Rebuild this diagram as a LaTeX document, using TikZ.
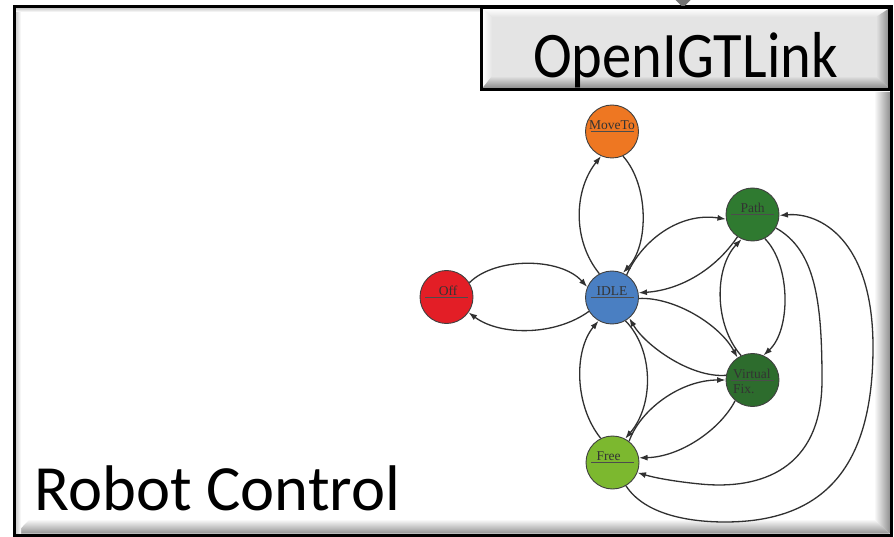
\documentclass[tikz,border=0pt]{standalone}
\usepackage{fontspec}
\newfontfamily\calfont{Carlito}
\newfontfamily\calnarrow[FakeStretch=0.9]{Carlito}
\newfontfamily\statefont{Liberation Serif}
\usetikzlibrary{arrows.meta}

\definecolor{offred}{HTML}{E31E26}
\definecolor{idleblue}{HTML}{4A7FC2}
\definecolor{moveorange}{HTML}{EE7722}
\definecolor{pathgreen}{HTML}{2F7A30}
\definecolor{vfgreen}{HTML}{2D6C2D}
\definecolor{freegreen}{HTML}{7CB82F}
\definecolor{boxgray}{HTML}{E4E4E4}
\definecolor{edgegray}{HTML}{303030}

\tikzset{
  stnode/.style={circle, draw=black!75, line width=0.9pt, minimum size=53pt,
    inner sep=0pt, fill=#1,
    path picture={\draw[line width=0.7pt, black!70]
      ([xshift=-21.5pt]path picture bounding box.center) --
      ([xshift=21.5pt]path picture bounding box.center);}},
  stlabel/.style={inner sep=0pt, text=black!80,
    font=\fontsize{13.5}{15}\selectfont\statefont},
  edge/.style={draw=edgegray, line width=1.3pt,
    -{Latex[length=8.5pt,width=6pt]}},
  bigtext/.style={inner sep=0pt, text=black}
}

\begin{document}
\begin{tikzpicture}[x=1pt, y=-1pt]
\useasboundingbox (0,0) rectangle (894,537);
\fill[white] (0,0) rectangle (894,537);

% bevel of the outer panel
\begin{scope}
  \clip (874,92) -- (889.5,92) -- (889.5,533.5) -- (874,519) -- cycle;
  \shade[left color=white, right color=black!42] (874,92) rectangle (889.5,533.5);
\end{scope}
\begin{scope}
  \clip (16,533.5) -- (889.5,533.5) -- (874,519) -- (30,519) -- cycle;
  \shade[top color=white, bottom color=black!42] (16,519) rectangle (889.5,533.5);
\end{scope}
\shade[left color=black!18, right color=white] (16,8.5) rectangle (21,533);
\shade[top color=black!18, bottom color=white] (16,8.5) rectangle (481,12);

% outer panel border
\draw[line width=3pt] (14.5,7) rectangle (891,535);

% incoming arrow tip above the OpenIGTLink box
\fill[black!55] (674.5,-1) -- (691.5,-1) -- (683,7.5) -- cycle;

% OpenIGTLink box
\node[rectangle, fill=boxgray, minimum width=408pt, minimum height=82pt,
  inner sep=0pt] (igt) at (685.5,48.25) {};
\begin{scope}
  \clip (482.5,8.5) -- (889,8.5) -- (878,17) -- (492,17) -- cycle;
  \shade[top color=white, bottom color=boxgray] (482.5,8.5) rectangle (889,17);
\end{scope}
\begin{scope}
  \clip (482.5,8.5) -- (492,17) -- (492,77) -- (482.5,88) -- cycle;
  \shade[left color=white, right color=boxgray] (482.5,8.5) rectangle (492,88);
\end{scope}
\begin{scope}
  \clip (889,8.5) -- (889,88) -- (876,76) -- (876,17) -- cycle;
  \shade[left color=boxgray, right color=black!45] (876,8.5) rectangle (889,88);
\end{scope}
\begin{scope}
  \clip (482.5,88) -- (889,88) -- (876,76) -- (492,76) -- cycle;
  \shade[top color=boxgray, bottom color=black!45] (482.5,76) rectangle (889,88);
\end{scope}
\draw[line width=3pt] (igt.north west) rectangle (igt.south east);
\node[bigtext, anchor=base, font=\fontsize{65}{70}\selectfont\calnarrow]
  (igt-text) at (685.5,78) {OpenIGTLink};

% panel title
\node[bigtext, anchor=base west, font=\fontsize{64.5}{70}\selectfont\calfont]
  (panel-title) at (34.5,510.5) {Robot Control};

% states
\node[stnode=moveorange] (moveto) at (612,131.5) {};
\node[stnode=idleblue]   (idle)   at (612,297.5) {};
\node[stnode=offred]     (off)    at (446.5,297) {};
\node[stnode=pathgreen]  (path)   at (752.5,214.5) {};
\node[stnode=vfgreen]    (vf)     at (752.5,380) {};
\node[stnode=freegreen]  (free)   at (612.5,462.5) {};

\node[stlabel, anchor=base] (moveto-l) at ([yshift=2pt]moveto.center) {MoveTo};
\node[stlabel, anchor=base] (idle-l)   at ([yshift=2pt]idle.center) {IDLE};
\node[stlabel, anchor=base] (off-l)    at ([xshift=1.5pt,yshift=2pt]off.center) {Off};
\node[stlabel, anchor=base] (path-l)   at ([yshift=2pt]path.center) {Path};
\node[stlabel, anchor=base west] (vf-l1) at ([xshift=-19.5pt,yshift=2pt]vf.center) {Virtual};
\node[stlabel, anchor=base west] (vf-l2) at ([xshift=-19.5pt,yshift=-13.5pt]vf.center) {Fix.};
\node[stlabel, anchor=base] (free-l)   at ([xshift=-4pt,yshift=2pt]free.center) {Free};

% transitions
\draw[edge] (off.32) .. controls (495,257) and (560,257) .. (idle.157);
\draw[edge] (idle.211) .. controls (555,336) and (500,336) .. (off.-35);

\draw[edge] (idle.118) .. controls (572,240) and (574,190) .. (moveto.-114);
\draw[edge] (moveto.-66) .. controls (649,185) and (649,245) .. (idle.66);

\draw[edge] (idle.57) .. controls (642,240) and (680,212) .. (path.190);
\draw[edge] (path.236) .. controls (715,270) and (680,290) .. (idle.10);

\draw[edge] (idle.-2) .. controls (675,297) and (720,325) .. (vf.124);
\draw[edge] (vf.170) .. controls (690,378) and (645,345) .. (idle.-50);

\draw[edge] (path.-63) .. controls (791,265) and (791,330) .. (vf.66);
\draw[edge] (vf.115) .. controls (714,325) and (714,268) .. (path.-114);

\draw[edge] (free.116) .. controls (574,405) and (574,350) .. (idle.-120);
\draw[edge] (idle.-60) .. controls (654,350) and (654,405) .. (free.62);

\draw[edge] (free.52) .. controls (640,410) and (680,380) .. (vf.180);
\draw[edge] (vf.230) .. controls (720,430) and (680,457) .. (free.10);

\draw[edge] (path.-30) .. controls (815,250) and (822,300) .. (822,380)
  .. controls (822,470) and (760,490) .. (700,484)
  .. controls (670,481) and (652,477) .. (free.-22);
\draw[edge] (free.-60) .. controls (645,515) and (690,522) .. (725,522)
  .. controls (830,522) and (873,460) .. (873,347)
  .. controls (873,240) and (820,212) .. (path.-2);
\end{tikzpicture}
\end{document}
